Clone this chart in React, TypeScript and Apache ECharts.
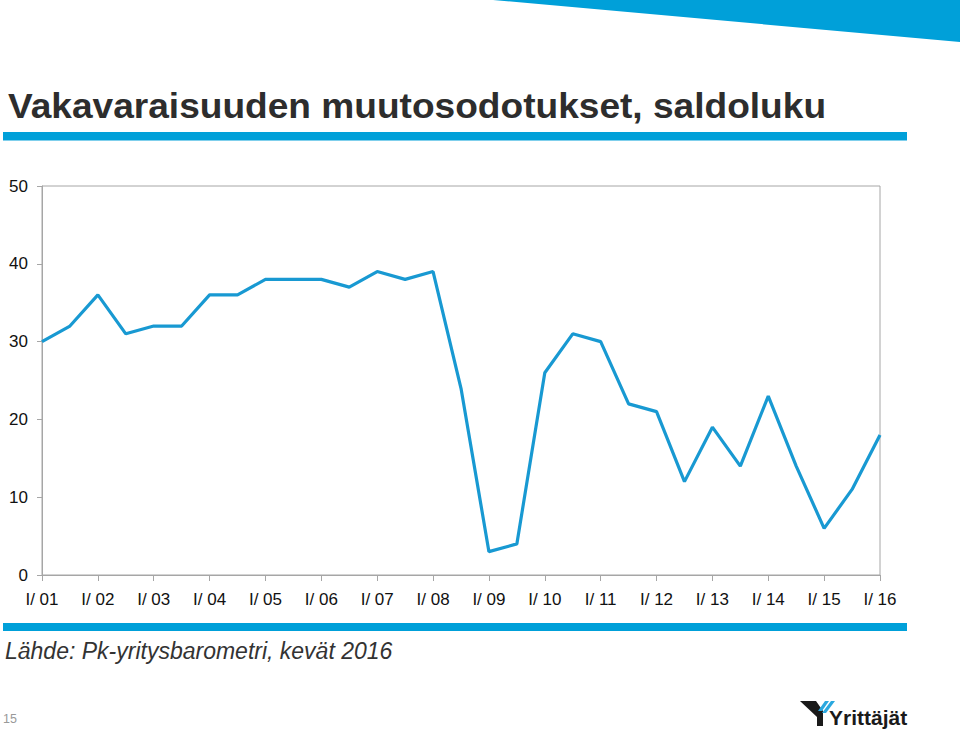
import React, { useEffect, useRef } from "react";
import * as echarts from "echarts";

const years = ["01","02","03","04","05","06","07","08","09","10","11","12","13","14","15","16"];
const halves = ["I", "II"];
const categories: string[] = [];
years.forEach((y, i) => {
  halves.forEach((h) => {
    if (i === years.length - 1 && h === "II") return;
    categories.push(h + "/ " + y);
  });
});
const saldoluku = [30,32,36,31,32,32,36,36,38,38,38,37,39,38,39,24,3,4,26,31,30,22,21,12,19,14,23,14,6,11,18];
const yTicks = { min: 0, max: 50, interval: 10 };

const titleText = "Vakavaraisuuden muutosodotukset, saldoluku";
const sourceText = "Lähde: Pk-yritysbarometri, kevät 2016";
const pageNo = "15";
const logoText = "Yrittäjät";

const BLUE = "#00a0d9";
const AXIS = "#a6a6a6";
const FONT = "'Liberation Sans', Arial, sans-serif";

export default function App() {
  const ref = useRef<HTMLDivElement>(null);
  useEffect(() => {
    if (!ref.current) return;
    const chart = echarts.init(ref.current, null, { renderer: "svg" });
    const showEveryOther = (i: number) => i % 2 === 0;
    chart.setOption({
      animation: false,
      backgroundColor: "#ffffff",
      grid: { left: 42, right: 80, top: 186, bottom: 158, show: true, borderColor: AXIS, borderWidth: 1 },
      xAxis: {
        type: "category",
        data: categories,
        boundaryGap: false,
        axisLine: { lineStyle: { color: AXIS, width: 1 } },
        axisTick: { show: true, interval: showEveryOther, length: 6, lineStyle: { color: AXIS } },
        axisLabel: { interval: showEveryOther, fontSize: 17, color: "#111", margin: 16, fontFamily: FONT },
        splitLine: { show: false },
      },
      yAxis: {
        type: "value",
        min: yTicks.min,
        max: yTicks.max,
        interval: yTicks.interval,
        axisLine: { show: true, lineStyle: { color: AXIS, width: 1 } },
        axisTick: { show: true, length: 5, lineStyle: { color: AXIS } },
        axisLabel: { fontSize: 17, color: "#111", margin: 14, fontFamily: FONT },
        splitLine: { show: false },
      },
      series: [
        {
          type: "line",
          data: saldoluku,
          symbol: "none",
          lineStyle: { color: "#1899d2", width: 3.2 },
          z: 3,
        },
      ],
      graphic: [
        { type: "polygon", shape: { points: [[493, 0], [960, 0], [960, 42]] }, style: { fill: BLUE }, silent: true },
        { type: "rect", shape: { x: 3, y: 132, width: 904, height: 8.5 }, style: { fill: BLUE }, silent: true },
        { type: "rect", shape: { x: 3, y: 623, width: 904, height: 8 }, style: { fill: BLUE }, silent: true },
        {
          type: "text", x: 8, y: 105.5, scaleX: 1.06,
          style: { text: titleText, font: "bold 35px " + FONT, fill: "#2d2d2d", textAlign: "left", textVerticalAlign: "middle" },
        },
        {
          type: "text", x: 5, y: 651,
          style: { text: sourceText, font: "italic 23px " + FONT, fill: "#333", textAlign: "left", textVerticalAlign: "middle" },
        },
        {
          type: "text", x: 3, y: 719,
          style: { text: pageNo, font: "12.5px " + FONT, fill: "#999", textAlign: "left", textVerticalAlign: "middle" },
        },
        { type: "polygon", shape: { points: [[800, 701], [816, 701], [823, 711], [823, 726], [817, 726], [817, 717]] }, style: { fill: "#1a1a1a" }, silent: true },
        { type: "polygon", shape: { points: [[825, 701], [829, 701], [822, 711], [818, 711]] }, style: { fill: "#2aa8df" }, silent: true },
        { type: "polygon", shape: { points: [[831, 701], [835, 701], [826, 713], [822, 713]] }, style: { fill: "#2aa8df" }, silent: true },
        {
          type: "text", x: 829, y: 717,
          style: { text: logoText, font: "bold 21px " + FONT, fill: "#1a1a1a", textAlign: "left", textVerticalAlign: "middle" },
        },
      ],
    });
    return () => chart.dispose();
  }, []);
  return <div ref={ref} style={{ position: "absolute", left: 0, top: 0, width: 960, height: 733 }} />;
}
